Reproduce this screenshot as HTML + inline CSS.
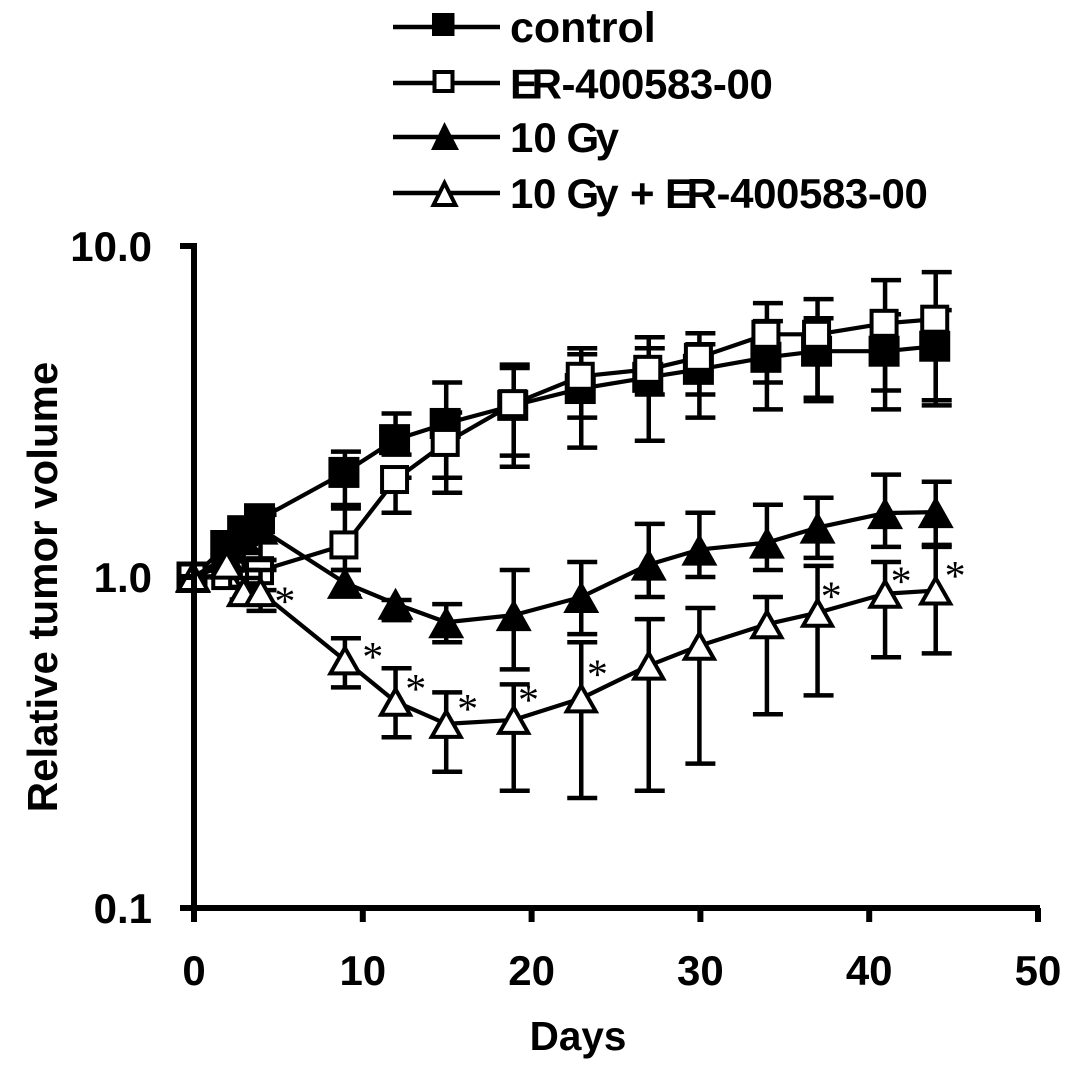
<!DOCTYPE html>
<html lang="en">
<head>
<meta charset="utf-8">
<title>Relative tumor volume chart</title>
<style>
html,body{margin:0;padding:0;background:#fff;}
svg{display:block;}
text{font-family:"Liberation Sans",Arial,sans-serif;font-weight:bold;fill:#000;}
.star{font-family:"Liberation Serif","Times New Roman",serif;font-weight:normal;font-size:42px;}
</style>
</head>
<body>
<svg id="chart" xmlns="http://www.w3.org/2000/svg" width="1087" height="1070" viewBox="0 0 1087 1070">
  <g id="legend">
    <g>
      <line x1="393" x2="500" y1="27" y2="27" stroke="#000" stroke-width="4.5"/>
      <rect x="432" y="13" width="22.5" height="23" fill="#000"/>
      <text x="510" y="42" font-size="43">control</text>
    </g>
    <g>
      <line x1="393" x2="500" y1="83" y2="83" stroke="#000" stroke-width="4.5"/>
      <rect x="434.5" y="72" width="18" height="19" fill="#fff" stroke="#000" stroke-width="4"/>
      <text x="510" y="98.5" font-size="42" letter-spacing="-0.4">E<tspan dx="-6">R-400583-00</tspan></text>
    </g>
    <g>
      <line x1="393" x2="500" y1="137" y2="137" stroke="#000" stroke-width="4.5"/>
      <polygon points="444.5,122 459,150 431,150" fill="#000"/>
      <text y="152" font-size="42"><tspan x="510">10</tspan><tspan x="566.5">G</tspan><tspan dx="-3.5">y</tspan></text>
    </g>
    <g>
      <line x1="393" x2="500" y1="193" y2="193" stroke="#000" stroke-width="4.5"/>
      <polygon points="444.5,183 455.5,205 433.5,205" fill="#fff" stroke="#000" stroke-width="4"/>
      <text y="208" font-size="42" letter-spacing="-0.4"><tspan x="510">10</tspan><tspan x="566.5">G</tspan><tspan dx="-3.5">y</tspan><tspan x="630">+</tspan><tspan x="665">E</tspan><tspan dx="-6">R-400583-00</tspan></text>
    </g>
  </g>
  <text font-size="42" text-anchor="middle" transform="translate(57,587) rotate(-90)">Relative tumor volume</text>
  <text font-size="40.5" text-anchor="middle" x="578" y="1050">Days</text>
  <g id="plot"></g>
</svg>
<script>
const days = [0, 2, 3, 4, 9, 12, 15, 19, 23, 27, 30, 34, 37, 41, 44];

const controlMean  = [1, 1.245, 1.38, 1.50, 2.07, 2.60, 2.91, 3.30, 3.71, 4.01, 4.24, 4.61, 4.81, 4.81, 4.98];
const controlUpper = [1, 1.34, 1.488, 1.596, 2.392, 3.119, 3.87, 4.38, 4.71, 4.91, 5.05, 5.93, 6.05, 6.22, 6.40];
const controlLower = [1, 1.126, 1.207, 1.295, 1.65, 2.343, 1.995, 2.326, 3.03, 3.56, 3.56, 3.87, 3.48, 3.66, 3.42];

const erMean  = [1, 1.01, 1.02, 1.045, 1.25, 1.97, 2.55, 3.34, 4.04, 4.24, 4.61, 5.41, 5.41, 5.84, 6.01];
const erUpper = [1, 1.087, 1.087, 1.126, 1.61, 1.995, 3.14, 4.28, 4.91, 5.30, 5.45, 6.72, 6.91, 7.89, 8.34];
const erLower = [1, 0.979, 0.979, 0.913, 1.05, 1.563, 1.797, 2.154, 2.46, 2.58, 3.03, 3.21, 3.40, 3.21, 3.30];

const gyMean  = [1, 1.15, 1.30, 1.40, 0.96, 0.83, 0.73, 0.767, 0.87, 1.09, 1.21, 1.27, 1.41, 1.56, 1.57];
const gyUpper = [1, 1.207, 1.388, 1.541, 1.05, 0.852, 0.828, 1.05, 1.11, 1.447, 1.563, 1.653, 1.736, 2.038, 1.94];
const gyLower = [1, 1.014, 1.05, 1.126, 0.876, 0.741, 0.635, 0.526, 0.672, 0.87, 1.0, 1.05, 1.142, 1.233, 1.233];

const comboMean  = [1, 1.09, 0.90, 0.90, 0.56, 0.42, 0.36, 0.37, 0.43, 0.54, 0.62, 0.72, 0.78, 0.89, 0.91];
const comboUpper = [1, 1.142, 0.993, 1.05, 0.653, 0.530, 0.448, 0.474, 0.635, 0.746, 0.806, 0.87, 1.08, 1.11, 1.25];
const comboLower = [1, 1.014, 0.855, 0.79, 0.464, 0.328, 0.258, 0.226, 0.215, 0.226, 0.273, 0.385, 0.439, 0.572, 0.588];

const starDay   = [5.38, 10.59, 13.14, 16.21, 19.82, 23.9, 37.75, 41.89, 45.09];
const starValue = [0.87, 0.592, 0.474, 0.412, 0.439, 0.523, 0.90, 1.0, 1.04];

const xTicks = [0, 10, 20, 30, 40, 50];
const yTicks = [0.1, 1, 10];
const yTickLabels = ['0.1', '1.0', '10.0'];

const X0 = 194, X50 = 1038, YTOP = 246, YBOTTOM = 908;
function xScale(d) { return X0 + (X50 - X0) * d / 50; }
function yScale(v) { return YBOTTOM - (Math.log10(v) + 1) * (YBOTTOM - YTOP) / 2; }

const NS = 'http://www.w3.org/2000/svg';
const plot = document.getElementById('plot');
function make(tag, attrs, parent) {
  const el = document.createElementNS(NS, tag);
  for (const k in attrs) el.setAttribute(k, attrs[k]);
  (parent || plot).appendChild(el);
  return el;
}

function drawErrorBars(parent, upper, lower) {
  days.forEach(function (d, i) {
    const x = xScale(d), yU = yScale(upper[i]), yL = yScale(lower[i]);
    make('line', {x1: x - 1, x2: x - 1, y1: yU, y2: yL, stroke: '#000', 'stroke-width': 4.5}, parent);
    make('line', {x1: x - 15, x2: x + 15, y1: yU, y2: yU, stroke: '#000', 'stroke-width': 4.5}, parent);
    make('line', {x1: x - 15, x2: x + 15, y1: yL, y2: yL, stroke: '#000', 'stroke-width': 4.5}, parent);
  });
}
function drawLine(parent, mean) {
  const pts = days.map(function (d, i) { return (xScale(d) - 1) + ',' + yScale(mean[i]); }).join(' ');
  make('polyline', {points: pts, fill: 'none', stroke: '#000', 'stroke-width': 4.2, 'stroke-linejoin': 'round'}, parent);
}
function drawMarker(parent, shape, x, y) {
  if (shape === 'filled-square') {
    return make('rect', {x: x - 17.5, y: y - 15.5, width: 31, height: 31, fill: '#000'}, parent);
  }
  if (shape === 'open-square') {
    return make('rect', {x: x - 14.5, y: y - 12.5, width: 25, height: 25, fill: '#fff', stroke: '#000', 'stroke-width': 4}, parent);
  }
  if (shape === 'filled-triangle') {
    return make('polygon', {points: (x - 1) + ',' + (y - 16) + ' ' + (x + 17) + ',' + (y + 16) + ' ' + (x - 19) + ',' + (y + 16), fill: '#000'}, parent);
  }
  return make('polygon', {points: (x - 1) + ',' + (y - 12.5) + ' ' + (x + 13.5) + ',' + (y + 13) + ' ' + (x - 15.5) + ',' + (y + 13), fill: '#fff', stroke: '#000', 'stroke-width': 4, 'stroke-miterlimit': 6}, parent);
}
function drawSeries(name, shape, mean, upper, lower) {
  const g = make('g', {});
  
  
  drawErrorBars(g, upper, lower);
  drawLine(g, mean);
  days.forEach(function (d, i) {
    const m = drawMarker(g, shape, xScale(d), yScale(mean[i]));
    
    
  });
}

drawSeries('series-control', 'filled-square', controlMean, controlUpper, controlLower);
drawSeries('series-er-400583-00', 'open-square', erMean, erUpper, erLower);
drawSeries('series-10-gy', 'filled-triangle', gyMean, gyUpper, gyLower);
drawSeries('series-10-gy-plus-er-400583-00', 'open-triangle', comboMean, comboUpper, comboLower);

starDay.forEach(function (d, i) {
  const t = make('text', {class: 'star', x: xScale(d), y: yScale(starValue[i]) + 18.5, 'text-anchor': 'middle'});
  
  
  t.textContent = '*';
});

const yAxis = make('line', {x1: X0, x2: X0, y1: YTOP - 3, y2: YBOTTOM + 14, stroke: '#000', 'stroke-width': 6});


const xAxis = make('line', {x1: X0 - 14, x2: X50 + 2, y1: YBOTTOM, y2: YBOTTOM, stroke: '#000', 'stroke-width': 6});



yTicks.forEach(function (v, i) {
  const y = yScale(v);
  const tick = make('line', {x1: X0 - 14, x2: X0, y1: y, y2: y, stroke: '#000', 'stroke-width': 6});
  
  
  const label = make('text', {x: 152, y: y + 15, 'text-anchor': 'end', 'font-size': 42});
  
  
  label.textContent = yTickLabels[i];
});
xTicks.forEach(function (d) {
  const x = xScale(d);
  const tick = make('line', {x1: x, x2: x, y1: YBOTTOM, y2: YBOTTOM + 14, stroke: '#000', 'stroke-width': 6});
  
  
  const label = make('text', {x: x, y: 985, 'text-anchor': 'middle', 'font-size': 42});
  
  
  label.textContent = d;
});
</script>
</body>
</html>
